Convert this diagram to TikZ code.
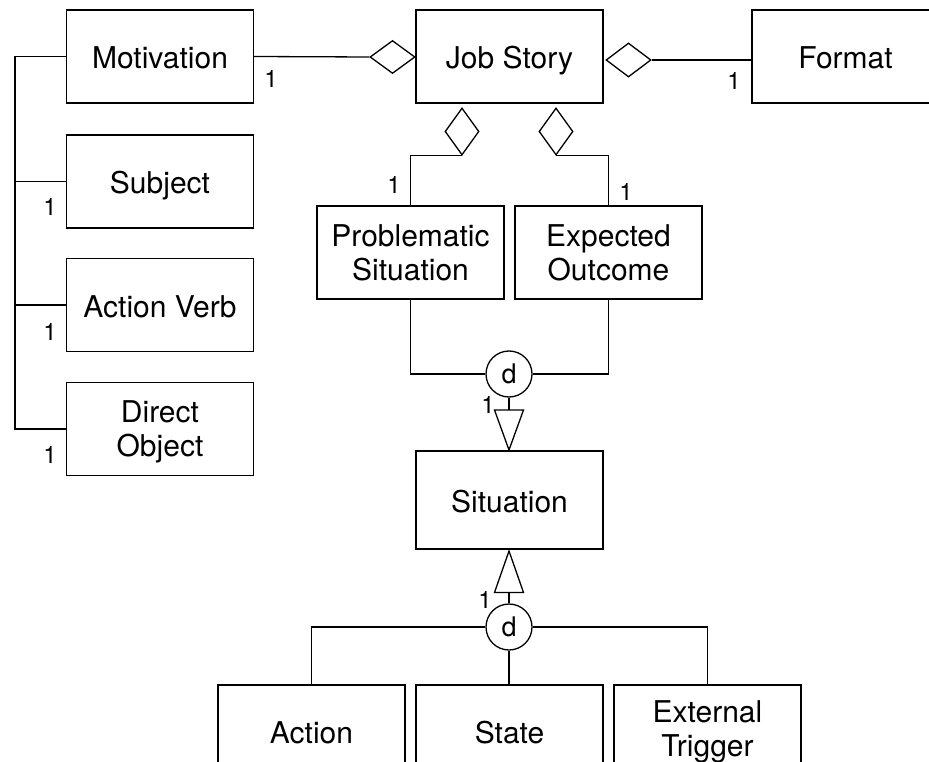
\documentclass[tikz,border=0pt]{standalone}
\usepackage{fontspec}
\setmainfont{TeX Gyre Heros}
\usetikzlibrary{shapes.geometric}
\begin{document}
\begin{tikzpicture}[x=1pt,y=-1pt,
  box/.style={draw, line width=1.3pt, minimum width=187pt, minimum height=93pt,
    inner sep=0pt, align=center, text depth=0pt, font=\fontsize{30}{34}\selectfont},
  oneline/.style={text height=24pt},
  wire/.style={line width=1.3pt},
  agg/.style={draw, fill=white, diamond, line width=1.3pt, inner sep=0pt},
  disj/.style={draw, circle, line width=1.3pt, minimum size=46pt, inner sep=0pt,
    font=\fontsize{27}{30}\selectfont},
  mult/.style={font=\fontsize{24}{24}\selectfont, inner sep=0pt},
]
\useasboundingbox (0,0) rectangle (929,762);
\clip (0,0) rectangle (929,762);

% classes
\node[box, oneline] (mot)   at (160,56.5)   {Motivation};
\node[box, oneline] (subj)  at (160,181.5)  {Subject};
\node[box, oneline] (verb)  at (160,305)    {Action Verb};
\node[box]          (dobj)  at (160,429)    {Direct\\Object};
\node[box, oneline] (job)   at (509.5,56.5) {Job Story};
\node[box, oneline] (fmt)   at (845.5,56.5) {Format};
\node[box]          (prob)  at (410.5,252.5){Problematic\\Situation};
\node[box]          (exp)   at (608.5,252.5){Expected\\Outcome};
\node[box, oneline, minimum height=98pt] (sit) at (509.5,500) {Situation};
\node[box, oneline] (act)   at (311.5,731.5){Action};
\node[box, oneline] (state) at (509.5,731.5){State};
\node[box, text depth=6pt] (ext) at (707.5,731.5){External\\Trigger};

% aggregation diamonds
\node[agg, minimum width=45pt, minimum height=33pt] (dmot)  at (392.5,57)  {};
\node[agg, minimum width=45pt, minimum height=34pt] (dfmt)  at (628.5,60)  {};
\node[agg, minimum width=34pt, minimum height=47pt] (dprob) at (462,131.5) {};
\node[agg, minimum width=34pt, minimum height=47pt] (dexp)  at (556,131.5) {};

\draw[wire] (mot.east) -- (dmot.west);
\draw[wire] (dfmt.east) -- (dfmt.east -| fmt.west);
\draw[wire] (dprob.south) -| (prob.north);
\draw[wire] (dexp.south) -| (exp.north);

% left bracket
\coordinate (spine) at (15,0);
\draw[wire] (mot.west) -- (mot.west -| spine) |- (dobj.west);
\draw[wire] (subj.west) -- (subj.west -| spine);
\draw[wire] (verb.west) -- (verb.west -| spine);

% upper disjoint specialisation
\node[disj] (d1) at (509,374) {d};
\draw[wire] (prob.south) |- (d1.west);
\draw[wire] (exp.south) |- (d1.east);
\coordinate (g1l) at (494.5,410);
\coordinate (g1r) at (523.5,410);
\coordinate (g1a) at (509,450);
\draw[wire] (d1.south) -- (d1.south |- g1l);
\draw[wire, line join=miter] (g1l) -- (g1r) -- (g1a) -- cycle;

% lower disjoint specialisation
\node[disj] (d2) at (509,627) {d};
\coordinate (g2l) at (494.5,592.5);
\coordinate (g2r) at (523.5,592.5);
\coordinate (g2a) at (509,551);
\draw[wire] (d2.north) -- (d2.north |- g2l);
\draw[wire, line join=miter] (g2l) -- (g2r) -- (g2a) -- cycle;
\draw[wire] (d2.west) -| (act.north);
\draw[wire] (d2.east) -| (ext.north);
\draw[wire] (d2.south) -- (d2.south |- state.north);

% multiplicities
\node[mult] (m1) at (271,79)  {1};
\node[mult] (m2) at (50,207)  {1};
\node[mult] (m3) at (50,332)  {1};
\node[mult] (m4) at (50,455)  {1};
\node[mult] (m5) at (734,81)  {1};
\node[mult] (m6) at (394,185) {1};
\node[mult] (m7) at (626,192) {1};
\node[mult] (m8) at (488,405) {1};
\node[mult] (m9) at (485,600) {1};
\end{tikzpicture}
\end{document}
